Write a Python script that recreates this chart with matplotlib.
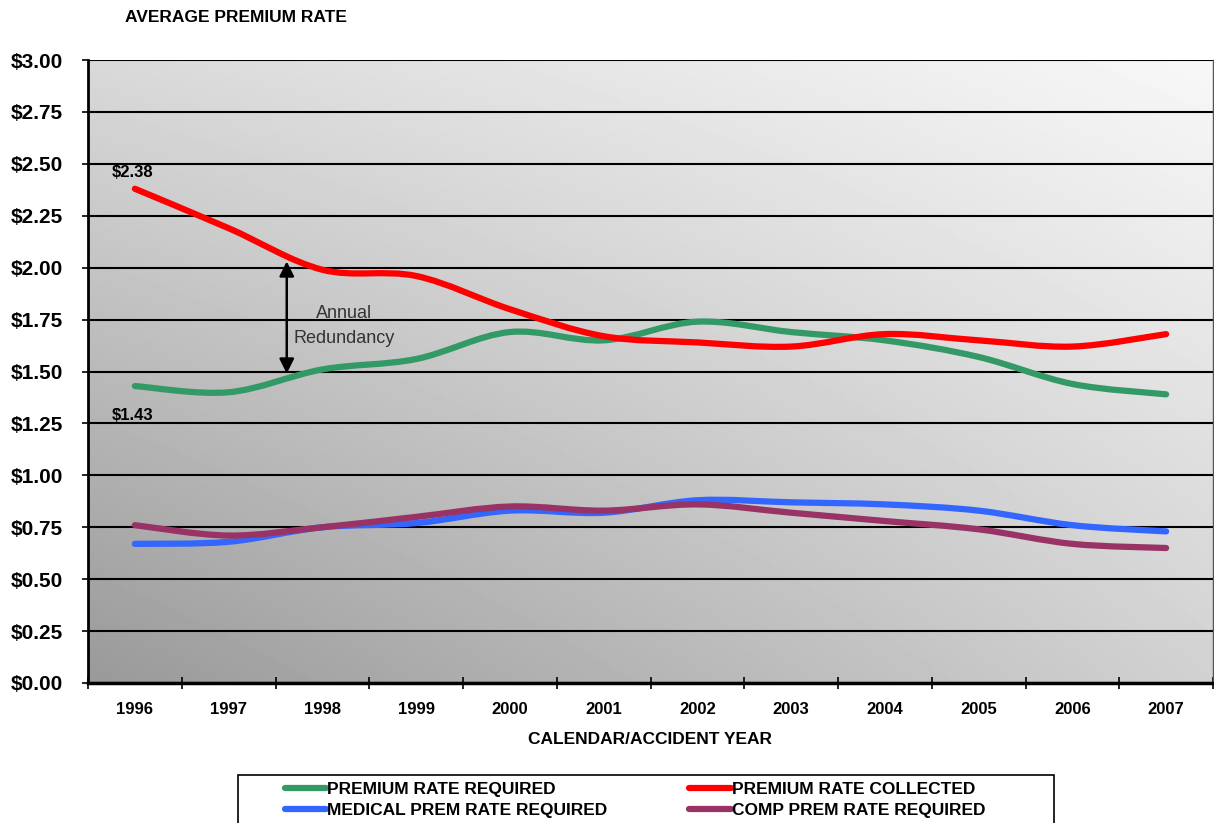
import numpy as np
import matplotlib.pyplot as plt
from matplotlib.path import Path
from matplotlib.patches import PathPatch, Rectangle
from matplotlib.lines import Line2D

plt.rcParams['font.family'] = ['Liberation Sans', 'DejaVu Sans']

years = ["1996", "1997", "1998", "1999", "2000", "2001",
         "2002", "2003", "2004", "2005", "2006", "2007"]
prem_required = [1.43, 1.40, 1.51, 1.56, 1.69, 1.65, 1.74, 1.69, 1.65, 1.57, 1.44, 1.39]
prem_collected = [2.38, 2.19, 1.99, 1.96, 1.80, 1.67, 1.64, 1.62, 1.68, 1.65, 1.62, 1.68]
medical_required = [0.67, 0.68, 0.75, 0.77, 0.83, 0.82, 0.88, 0.87, 0.86, 0.83, 0.76, 0.73]
comp_required = [0.76, 0.71, 0.75, 0.80, 0.85, 0.83, 0.86, 0.82, 0.78, 0.74, 0.67, 0.65]

series = [
    ("PREMIUM RATE REQUIRED", prem_required, "#339966"),
    ("PREMIUM RATE COLLECTED", prem_collected, "#ff0000"),
    ("MEDICAL PREM RATE REQUIRED", medical_required, "#3366ff"),
    ("COMP PREM RATE REQUIRED", comp_required, "#993366"),
]


def smooth_path(xs, ys):
    # bezier smoothing like the spreadsheet "smoothed line" option
    pts = np.column_stack([xs, ys]).astype(float)
    ext = np.vstack([pts[0], pts, pts[-1]])
    verts = [pts[0]]
    codes = [Path.MOVETO]
    for i in range(len(pts) - 1):
        p0, p1, p2, p3 = ext[i], ext[i + 1], ext[i + 2], ext[i + 3]
        verts += [p1 + (p2 - p0) / 6, p2 - (p3 - p1) / 6, p2]
        codes += [Path.CURVE4] * 3
    return Path(verts, codes)


fig = plt.figure(figsize=(12.14, 8.23), dpi=100)
ax = fig.add_axes([88 / 1214, 1 - 683 / 823, (1213 - 88) / 1214, (683 - 60) / 823])

x = np.arange(len(years))
ax.set_xlim(-0.5, len(years) - 0.5)
ax.set_ylim(0, 3.0)

# grey gradient background, dark bottom-left to near white top-right
u, v = np.meshgrid(np.linspace(0, 1, 300), np.linspace(0, 1, 200))
grad = 0.60 + 0.22 * u + 0.25 * v - 0.10 * u * v
ax.imshow(grad, extent=(-0.5, len(years) - 0.5, 0, 3.0), origin='lower',
          cmap='gray', vmin=0, vmax=1, aspect='auto', zorder=0)

ax.set_yticks(np.arange(0, 3.01, 0.25))
ax.yaxis.grid(True, color='black', linewidth=1.5)
for t in ax.yaxis.get_gridlines():
    t.set_zorder(1)

for label, vals, color in series:
    patch = PathPatch(smooth_path(x, vals), facecolor='none', edgecolor=color,
                      linewidth=4.5, capstyle='round', joinstyle='round', zorder=3)
    ax.add_patch(patch)

ax.set_yticklabels(["$%.2f" % t for t in np.arange(0, 3.01, 0.25)],
                   fontsize=15, fontweight='bold')
ax.tick_params(axis='y', direction='out', length=4.3, width=1.2, pad=13.5)

ax.set_xticks(x)
ax.set_xticklabels(years, fontsize=12, fontweight='bold')
ax.set_xticks(np.arange(-0.5, len(years)), minor=True)
ax.tick_params(axis='x', which='major', length=0, pad=13.5)
ax.tick_params(axis='x', which='minor', direction='inout', length=9, width=1.2)

ax.spines['left'].set_linewidth(2)
ax.spines['bottom'].set_linewidth(2.5)
ax.spines['top'].set_visible(False)
ax.spines['right'].set_color('#555555')
ax.spines['right'].set_linewidth(1)

ax.set_xlabel("CALENDAR/ACCIDENT YEAR", fontsize=12.5, fontweight='bold', labelpad=11)
fig.text(125 / 1214, 1 - 18 / 823, "AVERAGE PREMIUM RATE", fontsize=12.5,
         fontweight='bold', va='center', ha='left')

# value labels on first year
ax.text(x[0] - 0.03, prem_collected[0] + 0.08, "$%.2f" % prem_collected[0],
        fontsize=12, fontweight='bold', ha='center', va='center', zorder=4)
ax.text(x[0] - 0.02, prem_required[0] - 0.14, "$%.2f" % prem_required[0],
        fontsize=12, fontweight='bold', ha='center', va='center', zorder=4)

# annual redundancy arrow
ax.annotate("", xy=(1.62, 2.03), xytext=(1.62, 1.49),
            arrowprops=dict(arrowstyle='<|-|>', color='black', lw=1.8,
                            mutation_scale=22, shrinkA=0, shrinkB=0), zorder=4)
ax.text(2.23, 1.72, "Annual\nRedundancy", fontsize=13, color='#333333',
        ha='center', va='center', linespacing=1.65, zorder=4)

# legend box, bottom runs off the figure edge
fig.patches.append(Rectangle((238 / 1214, -0.02), (1054 - 238) / 1214, 0.02 + 1 - 775 / 823,
                             transform=fig.transFigure, facecolor='white',
                             edgecolor='black', linewidth=1.2, zorder=0))
handles = [Line2D([], [], color=c, linewidth=4.5, solid_capstyle='round') for _, _, c in series]
labels = [s[0] for s in series]
order = [0, 2, 1, 3]
fig.legend([handles[i] for i in order], [labels[i] for i in order], ncol=2,
           loc='upper left', bbox_to_anchor=(276 / 1214, 1 - 773 / 823),
           frameon=False, borderpad=0, handlelength=2.4, handletextpad=0.05,
           columnspacing=4.7, labelspacing=0.35,
           prop=dict(size=12.5, weight='bold'))

fig.savefig("out.png", dpi=100)
